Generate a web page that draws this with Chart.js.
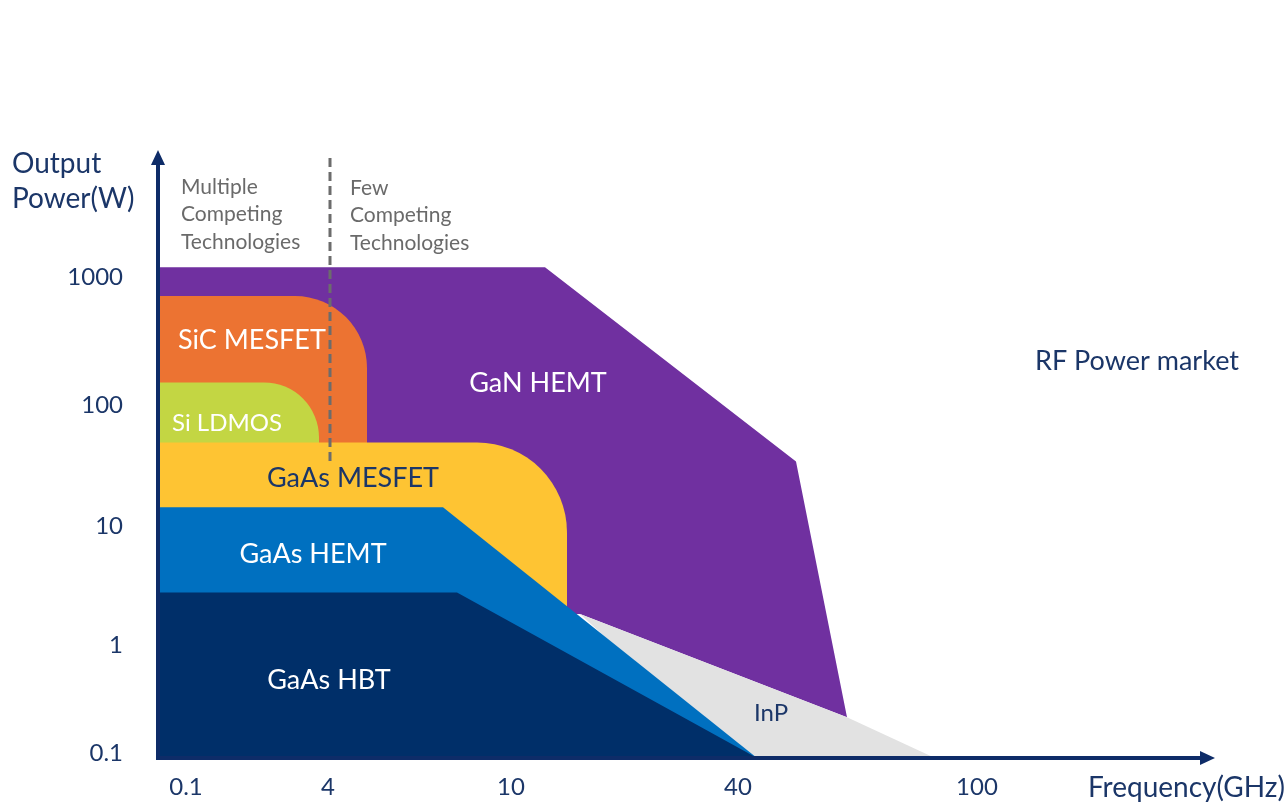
<!DOCTYPE html>
<html>
<head>
<meta charset="utf-8">
<script src="https://cdn.jsdelivr.net/npm/chart.js@4.4.1/dist/chart.umd.min.js"></script>
<style>
  html, body { margin: 0; padding: 0; background: #ffffff; }
  #wrap { width: 1287px; height: 804px; position: relative; }
</style>
</head>
<body>
<div id="wrap"><canvas id="chart"></canvas></div>
<script>
// Frequency axis: schematic (non-uniform) tick positions and their labels
const freqTickPos = [2.8, 17.0, 35.3, 58.0, 81.9];
const freqTickLabels = ['0.1', '4', '10', '40', '100'];
// Output power axis: tick positions in decade steps and their labels
const powerTickPos = [0.04, 0.94, 1.93, 2.94, 4.01];
const powerTickLabels = ['0.1', '1', '10', '100', '1000'];

// Technology regions as polygons (frequency position, power level)
const ganHemtX = [0, 38.7, 63.8, 68.9, 42.2, 0];
const ganHemtY = [4.09, 4.09, 2.47, 0.34, 1.20, 1.20];
const inpX = [42.2, 68.9, 77.7, 58.0];
const inpY = [1.20, 0.34, 0, 0];
const sicMesfetX = [0, 20.9, 20.9, 0];
const sicMesfetY = [3.85, 3.85, 2.15, 2.15];
const siLdmosX = [0, 16.1, 16.1, 0];
const siLdmosY = [3.13, 3.13, 2.15, 2.15];
const gaasMesfetX = [0, 40.9, 40.9, 0];
const gaasMesfetY = [2.63, 2.63, 0.48, 0.48];
const gaasHemtX = [0, 28.5, 59.9, 0];
const gaasHemtY = [2.09, 2.09, 0, 0];
const gaasHbtX = [0, 29.9, 59.9, 0];
const gaasHbtY = [1.38, 1.38, 0, 0];

// Boundary between "multiple" and "few" competing technologies
const dividerX = [17.2, 17.2];
const dividerY = [5.0, 2.45];

const NAVY = '#1b3668';
const AXIS = '#0e2c68';
const FONT = 'Lato, "Open Sans", sans-serif';

const pts = (xs, ys) => xs.map((x, i) => ({ x: x, y: ys[i] }));

// Regions listed from back to front
const regions = [
  { label: 'GaN HEMT',    xs: ganHemtX,    ys: ganHemtY,    color: '#7030a0' },
  { label: 'InP',         xs: inpX,        ys: inpY,        color: '#e2e2e2' },
  { label: 'SiC MESFET',  xs: sicMesfetX,  ys: sicMesfetY,  color: '#ec7332', corners: [0, 72, 0, 0] },
  { label: 'Si LDMOS',    xs: siLdmosX,    ys: siLdmosY,    color: '#c3d643', corners: [0, 55, 0, 0] },
  { label: 'GaAs MESFET', xs: gaasMesfetX, ys: gaasMesfetY, color: '#fec433', corners: [0, 90, 0, 0] },
  { label: 'GaAs HEMT',   xs: gaasHemtX,   ys: gaasHemtY,   color: '#0070c0' },
  { label: 'GaAs HBT',    xs: gaasHbtX,    ys: gaasHbtY,    color: '#002f69' }
];

const datasets = regions.map((r, i) => ({
  label: r.label,
  data: pts(r.xs, r.ys),
  showLine: true,
  borderWidth: 0,
  pointRadius: 0,
  backgroundColor: r.color,
  fill: r.corners ? false : 'shape',
  cornerRadius: r.corners || null,
  order: regions.length - i + 1
}));

datasets.push({
  label: 'divider',
  data: pts(dividerX, dividerY),
  showLine: true,
  borderColor: '#6c6c6c',
  borderWidth: 3,
  borderDash: [9, 5],
  pointRadius: 0,
  fill: false,
  order: 0
});

// Text placed inside the plot, in axis units
const regionText = [
  { t: 'GaN HEMT',    x: 38.0, y: 3.12, c: '#ffffff', s: 27 },
  { t: 'SiC MESFET',  x: 9.4,  y: 3.48, c: '#ffffff', s: 27 },
  { t: 'Si LDMOS',    x: 6.9,  y: 2.79, c: '#ffffff', s: 24 },
  { t: 'GaAs MESFET', x: 19.5, y: 2.33, c: NAVY,      s: 27 },
  { t: 'GaAs HEMT',   x: 15.5, y: 1.70, c: '#ffffff', s: 27 },
  { t: 'GaAs HBT',    x: 17.1, y: 0.65, c: '#ffffff', s: 27 },
  { t: 'InP',         x: 61.3, y: 0.37, c: NAVY,      s: 24 },
  { t: 'RF Power market', x: 97.9, y: 3.31, c: NAVY, s: 27 }
];
const noteText = [
  { lines: ['Multiple', 'Competing', 'Technologies'], x: 2.3, y: 4.76 },
  { lines: ['Few', 'Competing', 'Technologies'], x: 19.2, y: 4.75 }
];

const roundedRegions = {
  id: 'roundedRegions',
  beforeDatasetDraw(chart, args) {
    const ds = chart.data.datasets[args.index];
    if (!ds.cornerRadius) return;
    const p = args.meta.data;
    const ctx = chart.ctx;
    const a = chart.chartArea;
    ctx.save();
    ctx.beginPath();
    ctx.rect(a.left, a.top, a.right - a.left, a.bottom - a.top);
    ctx.clip();
    ctx.beginPath();
    ctx.moveTo(p[0].x, p[0].y);
    for (let i = 1; i < p.length; i++) {
      const r = ds.cornerRadius[i];
      const n = p[(i + 1) % p.length];
      if (r > 0) ctx.arcTo(p[i].x, p[i].y, n.x, n.y, r);
      else ctx.lineTo(p[i].x, p[i].y);
    }
    ctx.closePath();
    ctx.fillStyle = ds.backgroundColor;
    ctx.fill();
    ctx.restore();
  }
};

const decorations = {
  id: 'decorations',
  afterDraw(chart) {
    const ctx = chart.ctx;
    const a = chart.chartArea;
    const xs = chart.scales.x, ys = chart.scales.y;
    ctx.save();

    // axes with arrow heads
    ctx.strokeStyle = AXIS;
    ctx.fillStyle = AXIS;
    ctx.lineWidth = 4;
    ctx.beginPath();
    ctx.moveTo(a.left, a.bottom + 2);
    ctx.lineTo(a.left, a.top + 10);
    ctx.moveTo(a.left - 2, a.bottom);
    ctx.lineTo(a.right - 10, a.bottom);
    ctx.stroke();
    ctx.beginPath();
    ctx.moveTo(a.left, a.top);
    ctx.lineTo(a.left - 7, a.top + 15);
    ctx.lineTo(a.left + 7, a.top + 15);
    ctx.closePath();
    ctx.fill();
    ctx.beginPath();
    ctx.moveTo(a.right, a.bottom);
    ctx.lineTo(a.right - 15, a.bottom - 7);
    ctx.lineTo(a.right - 15, a.bottom + 7);
    ctx.closePath();
    ctx.fill();

    // region names
    ctx.textAlign = 'center';
    ctx.textBaseline = 'middle';
    regionText.forEach(l => {
      ctx.font = l.s + 'px ' + FONT;
      ctx.fillStyle = l.c;
      ctx.fillText(l.t, xs.getPixelForValue(l.x), ys.getPixelForValue(l.y));
    });

    // notes on either side of the divider
    ctx.textAlign = 'left';
    ctx.font = '21px ' + FONT;
    ctx.fillStyle = '#6a6a6a';
    noteText.forEach(n => {
      const x0 = xs.getPixelForValue(n.x);
      const y0 = ys.getPixelForValue(n.y);
      n.lines.forEach((s, i) => ctx.fillText(s, x0, y0 + i * 27.5));
    });

    // axis titles
    ctx.fillStyle = NAVY;
    ctx.font = '28px ' + FONT;
    ctx.textAlign = 'left';
    ctx.fillText('Output', 12, 164);
    ctx.fillText('Power(W)', 12, 199);
    ctx.textAlign = 'right';
    ctx.fillText('Frequency(GHz)', 1285, a.bottom + 30);
    ctx.restore();
  }
};

new Chart(document.getElementById('chart'), {
  type: 'scatter',
  data: { datasets: datasets },
  options: {
    responsive: true,
    maintainAspectRatio: false,
    animation: false,
    events: [],
    layout: { padding: { top: 150, right: 72, left: 0, bottom: 0 } },
    plugins: { legend: { display: false }, tooltip: { enabled: false } },
    scales: {
      x: {
        type: 'linear', min: 0, max: 105.7,
        grid: { display: false, drawTicks: false },
        border: { display: false },
        afterBuildTicks: s => { s.ticks = freqTickPos.map(v => ({ value: v })); },
        afterFit: s => { s.height = 46; s.paddingLeft = 0; s.paddingRight = 0; },
        ticks: {
          autoSkip: false, maxRotation: 0, padding: 15,
          color: NAVY, font: { family: FONT, size: 24 },
          callback: v => freqTickLabels[freqTickPos.indexOf(v)]
        }
      },
      y: {
        type: 'linear', min: 0, max: 5.067,
        grid: { display: false, drawTicks: false },
        border: { display: false },
        afterBuildTicks: s => { s.ticks = powerTickPos.map(v => ({ value: v })); },
        afterFit: s => { s.width = 158; s.paddingTop = 0; s.paddingBottom = 0; },
        ticks: {
          autoSkip: false, padding: 35,
          color: NAVY, font: { family: FONT, size: 24 },
          callback: v => powerTickLabels[powerTickPos.indexOf(v)]
        }
      }
    }
  },
  plugins: [roundedRegions, decorations]
});
</script>
</body>
</html>
